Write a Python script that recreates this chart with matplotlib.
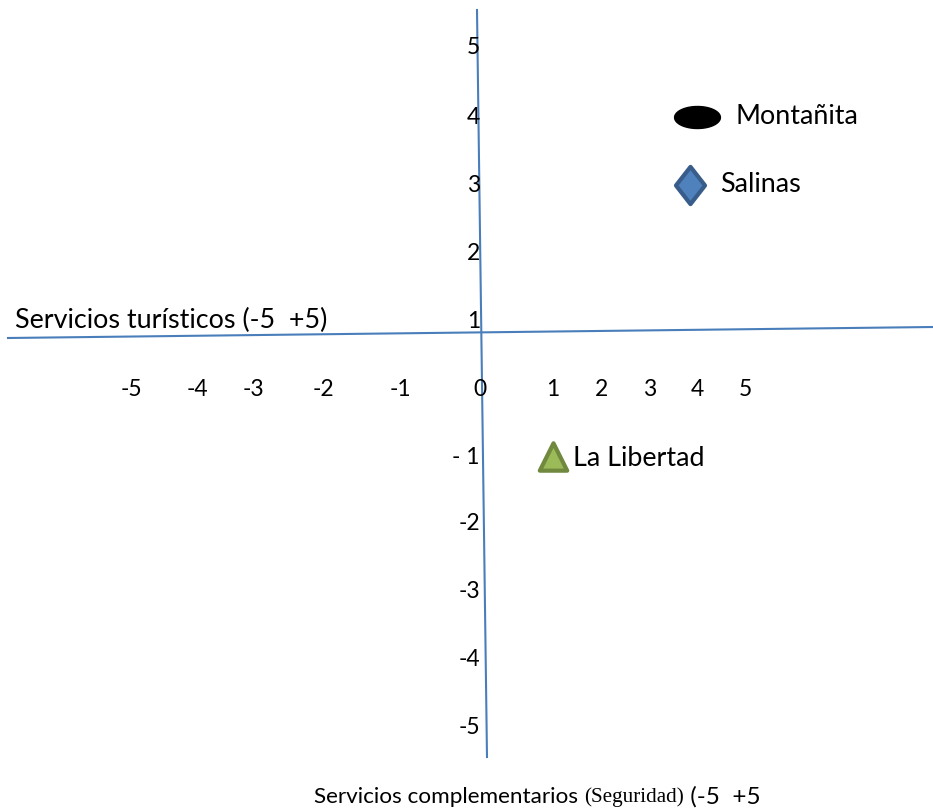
import numpy as np
import matplotlib
matplotlib.use("Agg")
import matplotlib.pyplot as plt
from matplotlib.path import Path

# ---- data ----
places = ["Montañita", "Salinas", "La Libertad"]
serv_turisticos = [4.0, 3.85, 1.0]        # x
serv_complementarios = [4.0, 3.0, -1.0]    # y
x_tick_values = [-5, -4, -3, -2, -1, 0, 1, 2, 3, 4, 5]
y_tick_values = [5, 4, 3, 2, 1, 0, -1, -2, -3, -4, -5]
y_tick_labels = ["5", "4", "3", "2", "1", "", "- 1", "-2", "-3", "-4", "-5"]

# ---- layout (pixel positions of the hand-placed scale labels) ----
x_tick_px = [131, 197, 253, 323, 400, 480, 553, 601, 650, 697, 745]
y_tick_px = [47, 117, 185, 253, 322, 390, 458, 524, 592, 660, 727]

def to_px_x(v):
    return np.interp(v, x_tick_values, x_tick_px)

def to_px_y(v):
    return np.interp(-np.asarray(v), [-t for t in y_tick_values], y_tick_px)

W, H = 933, 810
fig = plt.figure(figsize=(W / 100, H / 100), dpi=100)
ax = fig.add_axes([0, 0, 1, 1])
ax.set_xlim(0, W)
ax.set_ylim(H, 0)
ax.axis("off")

FONT = ["Lato", "DejaVu Sans"]
FS_TICK = 16.5
FS_LAB = 19.4
FS_BOT = 16.2
line_c = "#4a7ebb"

# axes lines (slightly tilted as in the drawing)
ax.plot([477, 487], [10, 757], color=line_c, lw=1.5)
ax.plot([8, 933], [338, 327], color=line_c, lw=1.5)

# scale labels
for v, lab in zip(x_tick_values, x_tick_values):
    ax.text(to_px_x(v), 390, str(lab), ha="center", va="center",
            fontsize=FS_TICK, family=FONT, color="black")
for v, lab in zip(y_tick_values, y_tick_labels):
    if lab:
        ax.text(480, to_px_y(v), lab, ha="right", va="center",
                fontsize=FS_TICK, family=FONT, color="black")

# markers
ell = [(np.cos(t), 0.48 * np.sin(t)) for t in np.linspace(0, 2 * np.pi, 60)]
ell_marker = Path(ell, closed=True)
dia_marker = Path([(0, 1), (0.78, 0), (0, -1), (-0.78, 0), (0, 1)], closed=True)
tri_marker = Path([(-0.9, -0.8), (0, 1), (0.9, -0.8), (-0.9, -0.8)], closed=True)

px = to_px_x(serv_turisticos)
py = to_px_y(serv_complementarios)
ax.scatter([px[0]], [py[0]], marker=ell_marker, s=1090, color="black", zorder=5)
ax.scatter([px[1]], [py[1]], marker=dia_marker, s=720, facecolor="#4f81bd",
           edgecolor="#385d8a", linewidths=3, zorder=5)
ax.scatter([px[2]], [py[2]], marker=tri_marker, s=480, facecolor="#9bbb59",
           edgecolor="#71893f", linewidths=3, zorder=5)

label_dx = [38, 30, 20]
for i, name in enumerate(places):
    ax.text(px[i] + label_dx[i], py[i], name, ha="left", va="center",
            fontsize=FS_LAB, family=FONT, color="black")

# axis titles
ax.text(15, 320, "Servicios turísticos (-5  +5)", ha="left", va="center",
        fontsize=FS_LAB, family=FONT, color="black")
t1 = ax.text(314, 797, "Servicios complementarios ", ha="left", va="center",
             fontsize=FS_BOT, family=FONT, color="black")
fig.canvas.draw()
bb = t1.get_window_extent()
inv = ax.transData.inverted()
x_end = inv.transform((bb.x1, bb.y0))[0]
t2 = ax.text(x_end, 797, "(Seguridad)", ha="left", va="center",
             fontsize=15.2, family=["Liberation Serif", "DejaVu Serif"], color="black")
fig.canvas.draw()
bb2 = t2.get_window_extent()
x_end2 = inv.transform((bb2.x1, bb2.y0))[0]
ax.text(x_end2, 797, " (-5  +5", ha="left", va="center",
        fontsize=17.5, family=FONT, color="black")

fig.savefig("out.png", dpi=100)
